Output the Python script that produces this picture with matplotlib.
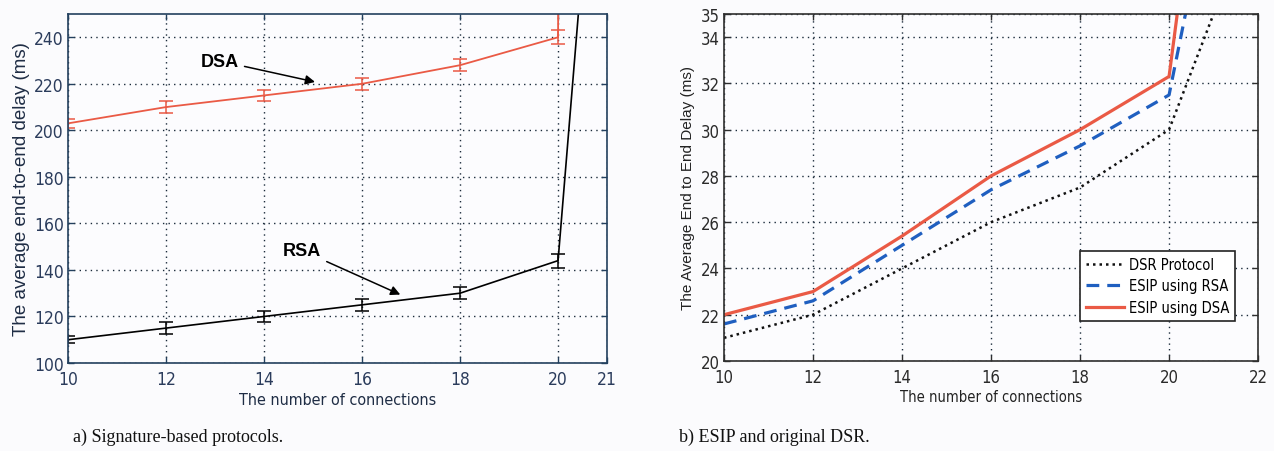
import matplotlib.pyplot as plt
import numpy as np

# %% data
# a) signature-based protocols
conn_a = [10, 12, 14, 16, 18, 20, 21]
dsa_delay = [203, 210, 215, 220, 228, 240, 5000]
rsa_delay = [110, 115, 120, 125, 130, 144, 400]
dsa_err = [2, 2.5, 2.5, 2.5, 2.5, 3, 0]
rsa_err = [1.5, 2.5, 2.5, 2.5, 2.5, 3, 0]

# b) ESIP vs. DSR
conn_b = [10, 12, 14, 16, 18, 20, 21]
dsr_delay = [21.0, 22.0, 24.0, 26.0, 27.5, 30.0, 35.0]
esip_rsa = [21.6, 22.6, 25.0, 27.4, 29.3, 31.5, 41.0]
esip_dsa = [22.0, 23.0, 25.4, 28.0, 30.0, 32.3, 47.0]

xticks_a = [10, 12, 14, 16, 18, 20, 21]
yticks_a = [100, 120, 140, 160, 180, 200, 220, 240]
xticks_b = [10, 12, 14, 16, 18, 20, 22]
yticks_b = [20, 22, 24, 26, 28, 30, 32, 34, 35]

RED = "#ea5a45"
BLUE = "#1f5fc0"

plt.rcParams["font.family"] = ["Liberation Sans", "DejaVu Sans"]
NARROW = dict(family="DejaVu Sans", stretch="condensed")

fig = plt.figure(figsize=(12.74, 4.52), dpi=100, facecolor="#fbfbfd")
axA = fig.add_axes([0.0534, 0.1947, 0.4231, 0.7721])
axB = fig.add_axes([0.5683, 0.1992, 0.4192, 0.7676])


def style_axes(ax, spine_col, tick_col, size):
    ax.set_facecolor("#fcfcfe")
    for s in ax.spines.values():
        s.set_color(spine_col)
        s.set_linewidth(1.2)
    ax.tick_params(direction="in", length=4, width=1, colors=spine_col,
                   labelcolor=tick_col, pad=3, top=True, right=True)
    for lab in ax.get_xticklabels() + ax.get_yticklabels():
        lab.set_family(NARROW["family"])
        lab.set_stretch(NARROW["stretch"])
        lab.set_fontsize(size)
    ax.grid(True, color="#1a2a3a", linestyle=(0, (1, 3)), linewidth=1.0)
    ax.set_axisbelow(True)


# %% plot a
axA.errorbar(conn_a, dsa_delay, yerr=dsa_err, color=RED, lw=1.3,
             capsize=5, capthick=1.1, elinewidth=1.1)
axA.errorbar(conn_a, rsa_delay, yerr=rsa_err, color="black", lw=1.2,
             capsize=5, capthick=1.1, elinewidth=1.1)
axA.set_xlim(10, 21)
axA.set_ylim(100, 250)
axA.set_xticks(xticks_a)
axA.set_yticks(yticks_a)
style_axes(axA, "#23405e", "#2b3c5c", 12.5)
axA.tick_params(axis="x", pad=5)
axA.set_xlabel("The number of connections", fontsize=11.5, color="#1f2d45",
               labelpad=3, **NARROW)
axA.set_ylabel("The average end-to-end delay (ms)", fontsize=13.5,
               color="#1f2d45", labelpad=3)
axA.annotate("DSA", xy=(15.04, 220.8), xytext=(13.1, 229.8),
             fontsize=13, fontweight="bold", ha="center", va="center",
             arrowprops=dict(arrowstyle="-|>", color="black", lw=1.1,
                             mutation_scale=14, shrinkA=2, shrinkB=0))
axA.annotate("RSA", xy=(16.78, 129.4), xytext=(14.78, 148.3),
             fontsize=13, fontweight="bold", ha="center", va="center",
             arrowprops=dict(arrowstyle="-|>", color="black", lw=1.1,
                             mutation_scale=14, shrinkA=2, shrinkB=0))

# %% plot b
axB.plot(conn_b, dsr_delay, color="#111111", ls=(0, (1, 1.6)), lw=1.8,
         label="DSR Protocol")
axB.plot(conn_b, esip_rsa, color=BLUE, ls=(0, (4, 2.5)), lw=2.3,
         label="ESIP using RSA")
axB.plot(conn_b, esip_dsa, color=RED, lw=2.3, label="ESIP using DSA")
axB.set_xlim(10, 22)
axB.set_ylim(20, 35)
axB.set_xticks(xticks_b)
axB.set_yticks(yticks_b)
style_axes(axB, "#2e2e2e", "#2a2a2a", 12)
axB.tick_params(axis="x", pad=5)
axB.set_xlabel("The number of connections", fontsize=10.5, color="#222222",
               labelpad=2, **NARROW)
axB.set_ylabel("The Average End to End Delay (ms)", fontsize=11,
               color="#222222", labelpad=4)
leg = axB.legend(loc="lower right", bbox_to_anchor=(0.97, 0.095),
                 prop={"family": "DejaVu Sans", "stretch": "condensed",
                       "size": 10.5},
                 fancybox=False, framealpha=1, edgecolor="#222222",
                 handlelength=2.6, borderpad=0.4, labelspacing=0.45,
                 handletextpad=0.3)
leg.get_frame().set_linewidth(1.2)

# %% captions
fig.text(0.057, 0.022, "a) Signature-based protocols.", family="Liberation Serif",
         fontsize=13, color="#111111")
fig.text(0.533, 0.022, "b) ESIP and original DSR.", family="Liberation Serif",
         fontsize=13, color="#111111")

fig.savefig("out.png", dpi=100, facecolor=fig.get_facecolor())
